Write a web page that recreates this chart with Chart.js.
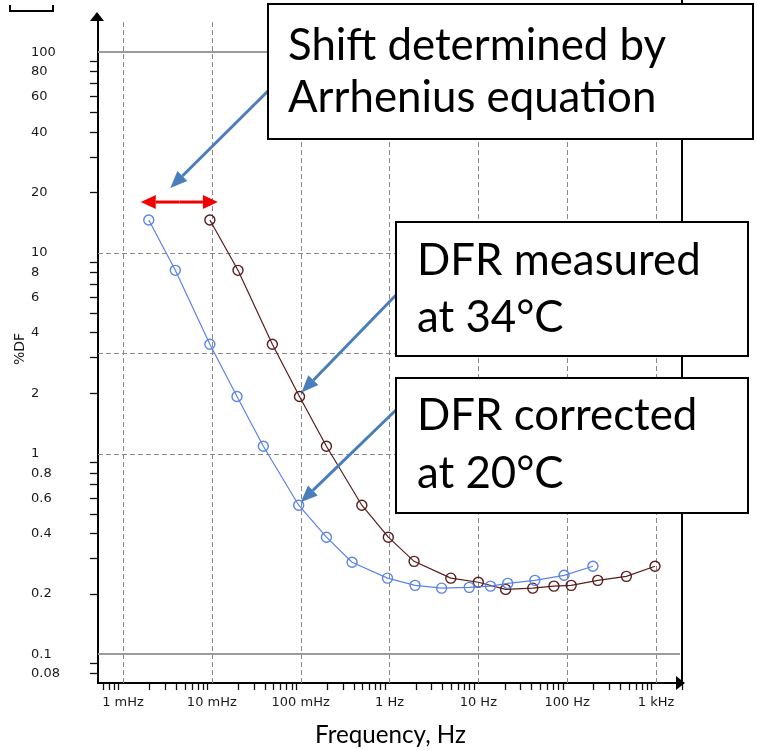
<!DOCTYPE html>
<html>
<head>
<meta charset="utf-8">
<title>DFR temperature correction</title>
<script src="https://cdn.jsdelivr.net/npm/chart.js@4.4.0/dist/chart.umd.min.js"></script>
<style>
    html, body { margin: 0; padding: 0; background: #fff; }
    canvas { display: block; }
</style>
</head>
<body>
<canvas id="myChart" width="757" height="750"></canvas>
<script>
// DFR sweep: frequency (Hz) and dissipation factor (%DF)
const measuredFreq = [0.0095, 0.0197, 0.048, 0.097, 0.195, 0.488, 0.97, 1.89, 4.9, 10, 20.3, 41, 71, 111, 221, 464, 975];
const measuredDF = [14.6, 8.2, 3.51, 1.93, 1.09, 0.554, 0.384, 0.291, 0.240, 0.229, 0.211, 0.214, 0.219, 0.221, 0.234, 0.245, 0.275];

const correctedFreq = [0.00195, 0.00388, 0.0095, 0.0192, 0.038, 0.095, 0.195, 0.379, 0.95, 1.94, 3.86, 7.9, 13.7, 21.4, 43.3, 92.3, 195];
const correctedDF = [14.6, 8.2, 3.51, 1.93, 1.09, 0.554, 0.384, 0.288, 0.240, 0.221, 0.214, 0.216, 0.219, 0.226, 0.234, 0.248, 0.275];

// axis labels
const xTickValues = [0.001, 0.01, 0.1, 1, 10, 100, 1000];
const xTickLabels = ['1 mHz', '10 mHz', '100 mHz', '1 Hz', '10 Hz', '100 Hz', '1 kHz'];
const yTickValues = [0.08, 0.1, 0.2, 0.4, 0.6, 0.8, 1, 2, 4, 6, 8, 10, 20, 40, 60, 80, 100];
const yTickLabels = ['0.08', '0.1', '0.2', '0.4', '0.6', '0.8', '1', '2', '4', '6', '8', '10', '20', '40', '60', '80', '100'];

// reference lines
const yDashedLines = [1, 3.16, 10];
const ySolidLines = [0.1, 100];

const xMin = 0.000523, xMax = 2014;
const yMin = 0.0721, yMax = 153.4;

const BLUE = '#5b84e8';
const BROWN = '#5a1c1c';
const ARROW_BLUE = '#4a7ebb';

// every 1..9 x 10^k between min and max
function logTicks(min, max) {
    const out = [];
    for (let k = Math.floor(Math.log10(min)); k <= Math.ceil(Math.log10(max)); k++) {
        for (let m = 1; m <= 9; m++) {
            const v = Number((m * Math.pow(10, k)).toPrecision(4));
            if (v >= min && v <= max) out.push({ value: v });
        }
    }
    return out;
}

function isDecade(v) {
    const l = Math.log10(v);
    return Math.abs(l - Math.round(l)) < 1e-6;
}

function labelFor(values, labels, v) {
    const i = values.findIndex(t => Math.abs(Math.log10(t / v)) < 1e-6);
    return i >= 0 ? labels[i] : '';
}

function fitSize(text, width, family) {
    const c = document.createElement('canvas').getContext('2d');
    c.font = '100px ' + family;
    return 100 * width / c.measureText(text).width;
}

const noteSize = (fitSize('DFR measured', 278, 'Lato') + fitSize('Shift determined by', 385, 'Lato')) / 2;
const titleSize = fitSize('Frequency, Hz', 151, 'Lato');

function seg(ctx, x0, y0, x1, y1) {
    ctx.beginPath();
    ctx.moveTo(x0, y0);
    ctx.lineTo(x1, y1);
    ctx.stroke();
}

// straight line with a filled triangular head at (x1, y1)
function arrow(ctx, x0, y0, x1, y1, head, half) {
    const a = Math.atan2(y1 - y0, x1 - x0);
    const bx = x1 - head * Math.cos(a), by = y1 - head * Math.sin(a);
    seg(ctx, x0, y0, bx, by);
    ctx.beginPath();
    ctx.moveTo(x1, y1);
    ctx.lineTo(bx + half * Math.sin(a), by - half * Math.cos(a));
    ctx.lineTo(bx - half * Math.sin(a), by + half * Math.cos(a));
    ctx.closePath();
    ctx.fill();
}

const notes = [
    { box: [268, 4, 753, 139], x: 288, lines: ['Shift determined by', 'Arrhenius equation'], base: [60, 112] },
    { box: [396, 222, 748, 356], x: 417, lines: ['DFR measured', 'at 34°C'], base: [275, 332] },
    { box: [396, 378, 748, 513], x: 417, lines: ['DFR corrected', 'at 20°C'], base: [430, 488] }
];

const decorations = {
    id: 'decorations',
    beforeDatasetsDraw(chart) {
        const { ctx, chartArea: a, scales: { x, y } } = chart;
        ctx.save();
        ctx.strokeStyle = '#8a8a8a';
        ctx.lineWidth = 1;
        ctx.setLineDash([5, 3]);
        xTickValues.forEach(v => {
            const px = Math.round(x.getPixelForValue(v)) + 0.5;
            seg(ctx, px, a.top + 7, px, a.bottom);
        });
        yDashedLines.forEach(v => {
            const py = Math.round(y.getPixelForValue(v)) + 0.5;
            seg(ctx, a.left, py, a.right, py);
        });
        ctx.setLineDash([]);
        ctx.strokeStyle = '#9c9c9c';
        ctx.lineWidth = 2;
        ySolidLines.forEach(v => {
            const py = Math.round(y.getPixelForValue(v));
            seg(ctx, a.left, py, a.right - 3, py);
        });
        ctx.restore();
    },
    afterDraw(chart) {
        const { ctx, chartArea: a, scales: { x, y } } = chart;
        ctx.save();

        // frame bits: right edge, axis arrow heads, stub at top left
        ctx.strokeStyle = '#000';
        ctx.fillStyle = '#000';
        ctx.lineWidth = 2;
        seg(ctx, a.right - 1, 0, a.right - 1, a.bottom);
        ctx.beginPath();
        ctx.moveTo(10, 5); ctx.lineTo(10, 11); ctx.lineTo(53, 11); ctx.lineTo(53, 5);
        ctx.stroke();
        ctx.beginPath();
        ctx.moveTo(a.left - 1, a.top - 3);
        ctx.lineTo(a.left - 8, a.top + 6);
        ctx.lineTo(a.left + 6, a.top + 6);
        ctx.closePath();
        ctx.fill();
        ctx.beginPath();
        ctx.moveTo(a.right + 2, a.bottom);
        ctx.lineTo(a.right - 7, a.bottom - 7);
        ctx.lineTo(a.right - 7, a.bottom + 7);
        ctx.closePath();
        ctx.fill();

        // y axis title
        ctx.save();
        ctx.translate(20, (a.top + a.bottom) / 2);
        ctx.rotate(-Math.PI / 2);
        ctx.font = '14px "DejaVu Sans"';
        ctx.fillStyle = '#1a1a1a';
        ctx.textAlign = 'center';
        ctx.textBaseline = 'middle';
        ctx.fillText('%DF', 0, 0);
        ctx.restore();

        // frequency shift between the two first points
        const bx = x.getPixelForValue(correctedFreq[0]);
        const rx = x.getPixelForValue(measuredFreq[0]);
        const ry = y.getPixelForValue(measuredDF[0]) - 18;
        const mid = (bx + rx) / 2;
        ctx.strokeStyle = '#f00000';
        ctx.fillStyle = '#f00000';
        ctx.lineWidth = 3;
        arrow(ctx, mid, ry, bx - 8, ry, 15, 7);
        arrow(ctx, mid, ry, rx + 8, ry, 15, 7);

        // callout arrows
        ctx.strokeStyle = ARROW_BLUE;
        ctx.fillStyle = ARROW_BLUE;
        ctx.lineWidth = 3;
        arrow(ctx, 268, 91, mid - 9, ry - 14, 17, 7);
        const p2x = x.getPixelForValue(measuredFreq[3]), p2y = y.getPixelForValue(measuredDF[3]);
        arrow(ctx, 396, 295, p2x + 2, p2y - 4, 17, 7);
        const p3x = x.getPixelForValue(correctedFreq[5]), p3y = y.getPixelForValue(correctedDF[5]);
        arrow(ctx, 396, 410, p3x + 2, p3y - 3, 17, 7);

        // text boxes
        ctx.font = noteSize.toFixed(1) + 'px Lato';
        ctx.textBaseline = 'alphabetic';
        ctx.textAlign = 'left';
        notes.forEach(n => {
            const [x0, y0, x1, y1] = n.box;
            ctx.fillStyle = '#fff';
            ctx.fillRect(x0, y0, x1 - x0, y1 - y0);
            ctx.strokeStyle = '#000';
            ctx.lineWidth = 2;
            ctx.strokeRect(x0, y0, x1 - x0, y1 - y0);
            ctx.fillStyle = '#000';
            n.lines.forEach((t, i) => ctx.fillText(t, n.x, n.base[i]));
        });
        ctx.restore();
    }
};

const tickFont = { family: 'DejaVu Sans', size: 13 };

const ctx = document.getElementById('myChart');
const chart = new Chart(ctx, {
    type: 'line',
    data: {
        datasets: [
            {
                label: 'DFR corrected at 20°C',
                data: correctedFreq.map((f, i) => ({ x: f, y: correctedDF[i] })),
                borderColor: BLUE,
                borderWidth: 1.2,
                pointRadius: 5,
                pointBorderWidth: 1.4,
                pointBorderColor: BLUE,
                pointBackgroundColor: 'rgba(0,0,0,0)',
                tension: 0
            },
            {
                label: 'DFR measured at 34°C',
                data: measuredFreq.map((f, i) => ({ x: f, y: measuredDF[i] })),
                borderColor: BROWN,
                borderWidth: 1.2,
                pointRadius: 5,
                pointBorderWidth: 1.4,
                pointBorderColor: BROWN,
                pointBackgroundColor: 'rgba(0,0,0,0)',
                tension: 0
            }
        ]
    },
    options: {
        responsive: false,
        animation: false,
        layout: { padding: { top: 15, right: 74, bottom: 0, left: 31 } },
        plugins: {
            legend: { display: false },
            tooltip: { enabled: false }
        },
        scales: {
            x: {
                type: 'logarithmic',
                min: xMin,
                max: xMax,
                bounds: 'data',
                afterFit: s => { s.height = 67; },
                afterBuildTicks: s => { s.ticks = logTicks(xMin, xMax); },
                ticks: {
                    autoSkip: false,
                    maxRotation: 0,
                    padding: 5,
                    color: '#1a1a1a',
                    font: tickFont,
                    callback: v => labelFor(xTickValues, xTickLabels, v)
                },
                grid: {
                    drawOnChartArea: false,
                    drawTicks: true,
                    tickLength: 7,
                    tickWidth: 1.3,
                    tickColor: c => isDecade(c.tick.value) ? 'rgba(0,0,0,0)' : '#111'
                },
                border: { display: true, color: '#000', width: 2 },
                title: {
                    display: true,
                    text: 'Frequency, Hz',
                    color: '#000',
                    font: { family: 'Lato', size: titleSize },
                    padding: { top: 0, bottom: 0 }
                }
            },
            y: {
                type: 'logarithmic',
                min: yMin,
                max: yMax,
                bounds: 'data',
                afterFit: s => { s.width = 67; },
                afterBuildTicks: s => { s.ticks = logTicks(yMin, yMax); },
                ticks: {
                    autoSkip: false,
                    crossAlign: 'far',
                    color: '#1a1a1a',
                    font: tickFont,
                    callback: v => labelFor(yTickValues, yTickLabels, v)
                },
                grid: {
                    drawOnChartArea: false,
                    drawTicks: true,
                    tickLength: 8,
                    tickWidth: 1.3,
                    tickColor: c => isDecade(c.tick.value) ? 'rgba(0,0,0,0)' : '#111'
                },
                border: { display: true, color: '#000', width: 2 }
            }
        }
    },
    plugins: [decorations]
});
</script>
</body>
</html>
